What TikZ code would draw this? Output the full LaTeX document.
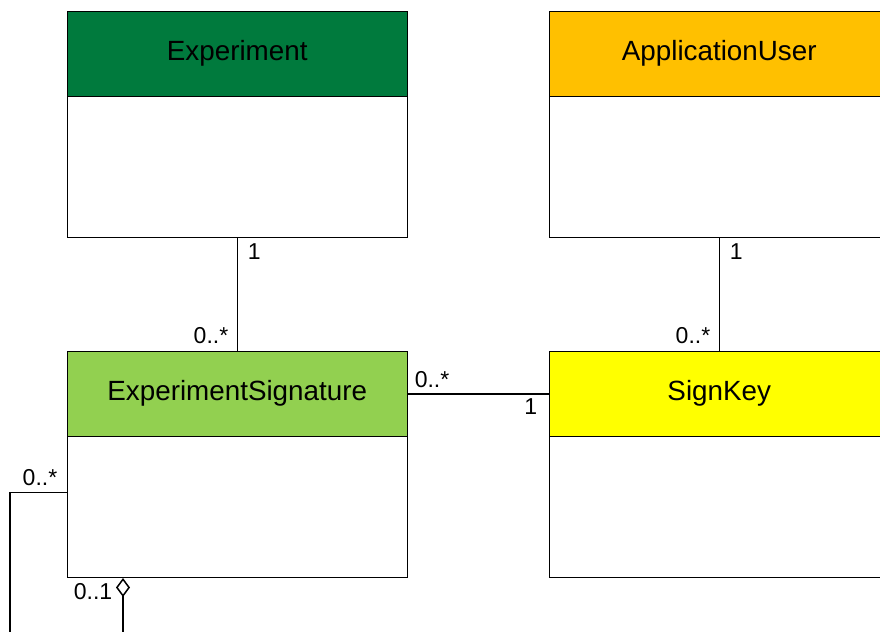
\documentclass[tikz,border=0pt]{standalone}
\usepackage{fontspec}
\setmainfont{Liberation Sans}
\usetikzlibrary{arrows.meta}
\definecolor{expgreen}{RGB}{0,122,61}
\definecolor{userorange}{RGB}{255,192,0}
\definecolor{siggreen}{RGB}{146,208,80}
\definecolor{keyyellow}{RGB}{255,255,0}
\begin{document}
\begin{tikzpicture}[x=0.5pt,y=-0.5pt,
  line width=0.75pt,
  hdr/.style={draw, minimum width=170pt, minimum height=42.5pt, anchor=north west,
    inner sep=0pt, font=\fontsize{13.9}{16}\selectfont},
  classbody/.style={draw, fill=white, minimum width=170pt, minimum height=70.5pt,
    anchor=north west, inner sep=0pt},
  mult/.style={inner sep=0pt, font=\fontsize{11.5}{13}\selectfont},
  assoc/.style={draw, line width=0.75pt}]
\useasboundingbox (0,0) rectangle (880,632);
\clip (0,0) rectangle (880,632);

% classes
\node[classbody] (expbody) at (66.5,95.5) {};
\node[hdr, fill=expgreen] (exp) at (66.5,10.5) {Experiment};
\node[classbody] (userbody) at (548.5,95.5) {};
\node[hdr, fill=userorange] (user) at (548.5,10.5) {ApplicationUser};
\node[classbody] (sigbody) at (66.5,435.5) {};
\node[hdr, fill=siggreen] (sig) at (66.5,350.5) {ExperimentSignature};
\node[classbody] (keybody) at (548.5,435.5) {};
\node[hdr, fill=keyyellow] (key) at (548.5,350.5) {SignKey};

% associations
\draw[assoc] (expbody.south) -- (sig.north);
\draw[assoc] (userbody.south) -- (key.north);
\draw[assoc] (sig.east) -- (key.west);

% reflexive association of ExperimentSignature
\coordinate (loopfoot) at (10,640);
\draw[assoc] ([yshift=7.25pt]sigbody.west) -| (loopfoot);

% aggregation
\coordinate (aggfoot) at (123,640);
\draw[assoc, -{Diamond[open,length=9.5pt,width=7pt]}] (aggfoot) -- (aggfoot |- sigbody.south);

% multiplicities
\node[mult, anchor=base west] (m1) at (247,259) {1};
\node[mult, anchor=base east] (m2) at (229,343) {0..*};
\node[mult, anchor=base west] (m3) at (729,259) {1};
\node[mult, anchor=base east] (m4) at (711,343) {0..*};
\node[mult, anchor=base west] (m5) at (414,387) {0..*};
\node[mult, anchor=base east] (m6) at (538,414) {1};
\node[mult, anchor=base east] (m7) at (58,485) {0..*};
\node[mult, anchor=base east] (m8) at (113,599) {0..1};
\end{tikzpicture}
\end{document}
